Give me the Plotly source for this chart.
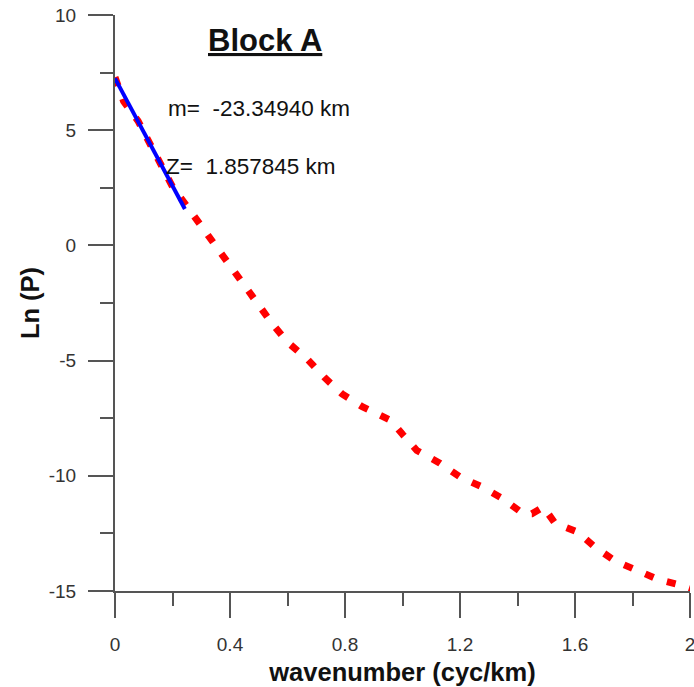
import plotly.graph_objects as go

# Power spectrum (red dotted curve)
wavenumber = [0.00, 0.03, 0.08, 0.12, 0.16, 0.20, 0.25, 0.30, 0.35, 0.40,
              0.45, 0.50, 0.55, 0.60, 0.67, 0.73, 0.79, 0.86, 0.93, 0.96,
              1.00, 1.05, 1.13, 1.20, 1.28, 1.35, 1.42, 1.45, 1.49, 1.53,
              1.61, 1.67, 1.74, 1.82, 1.89, 1.97, 2.02]
ln_p = [7.30, 6.25, 5.40, 4.40, 3.45, 2.55, 1.70, 0.85, 0.00, -0.95,
        -1.80, -2.65, -3.45, -4.20, -4.95, -5.75, -6.45, -7.00, -7.45, -7.60,
        -8.20, -8.90, -9.45, -10.05, -10.50, -11.00, -11.65, -11.65, -11.35, -12.05,
        -12.45, -13.10, -13.70, -14.15, -14.50, -14.75, -14.95]

# Linear fit segment (blue)
fit_x = [0.0, 0.243]
fit_y = [7.25, 1.58]

# Annotation texts
title_text = "Block A"
slope_text = "m=  -23.34940 km"
depth_text = "Z=  1.857845 km"

# Tick labels
x_tick_vals = [0, 0.4, 0.8, 1.2, 1.6, 2]
x_tick_text = ["0", "0.4", "0.8", "1.2", "1.6", "2"]
y_tick_vals = [-15, -10, -5, 0, 5, 10]
y_tick_text = ["-15", "-10", "-5", "0", "5", "10"]

FONT = "Liberation Sans, Arial, sans-serif"
AXIS_COLOR = "#555555"
TEXT_COLOR = "#333333"

L, R, T, B = 115, 4, 15, 96
PW, PH = 694 - L - R, 687 - T - B


def px(xp):
    return (xp - L) / PW


def py(yp):
    return (687 - B - yp) / PH


fig = go.Figure()
fig.add_trace(go.Scatter(
    x=wavenumber, y=ln_p, mode="lines",
    line=dict(color="#ff0000", width=7, dash="9px,14px"),
    showlegend=False, cliponaxis=False,
))
fig.add_trace(go.Scatter(
    x=fit_x, y=fit_y, mode="lines",
    line=dict(color="#0000ff", width=4),
    showlegend=False,
))

fig.update_layout(
    width=694, height=687,
    margin=dict(l=L, r=R, t=T, b=B, autoexpand=False),
    paper_bgcolor="white", plot_bgcolor="white",
    font=dict(family=FONT, color=TEXT_COLOR),
    showlegend=False,
)

fig.update_xaxes(
    range=[0, 2], tickmode="array", tickvals=x_tick_vals, ticktext=x_tick_text,
    automargin=False, ticklabeloverflow="allow",
    showline=True, linecolor=AXIS_COLOR, linewidth=2,
    ticks="outside", ticklen=25, tickwidth=2, tickcolor=AXIS_COLOR,
    minor=dict(tickmode="linear", tick0=0, dtick=0.2, ticks="outside",
               ticklen=13, tickwidth=2, tickcolor=AXIS_COLOR),
    showgrid=False, zeroline=False,
    tickfont=dict(size=19, color=TEXT_COLOR, family=FONT),
    ticklabelstandoff=10,
    title=dict(text="<b>wavenumber (cyc/km)</b>",
               font=dict(size=25.5, color="#111111", family=FONT), standoff=9),
)
fig.update_yaxes(
    range=[-15, 10], tickmode="array", tickvals=y_tick_vals, ticktext=y_tick_text,
    automargin=False, ticklabeloverflow="allow",
    showline=True, linecolor=AXIS_COLOR, linewidth=2,
    ticks="outside", ticklen=25, tickwidth=2, tickcolor=AXIS_COLOR,
    minor=dict(tickmode="linear", tick0=0, dtick=2.5, ticks="outside",
               ticklen=13, tickwidth=2, tickcolor=AXIS_COLOR),
    showgrid=False, zeroline=False,
    tickfont=dict(size=19, color=TEXT_COLOR, family=FONT),
    ticklabelstandoff=8,
    title=dict(text="<b>Ln (P)</b>",
               font=dict(size=25.5, color="#111111", family=FONT), standoff=2),
)

fig.add_annotation(
    text="<b><u>" + title_text + "</u></b>", xref="paper", yref="paper",
    x=px(264.5), y=py(40), xanchor="center", yanchor="middle",
    showarrow=False, font=dict(size=31, color="#111111", family=FONT),
)
fig.add_annotation(
    text=slope_text, xref="paper", yref="paper",
    x=px(166), y=py(108), xanchor="left", yanchor="middle",
    showarrow=False, font=dict(size=22.5, color="#111111", family=FONT),
)
fig.add_annotation(
    text=depth_text, xref="paper", yref="paper",
    x=px(164), y=py(166), xanchor="left", yanchor="middle",
    showarrow=False, font=dict(size=22.5, color="#111111", family=FONT),
)

fig.write_html(
    "out.html",
    config={"displayModeBar": False},
    post_script="document.body.style.margin='0';document.body.style.overflow='hidden';",
)
